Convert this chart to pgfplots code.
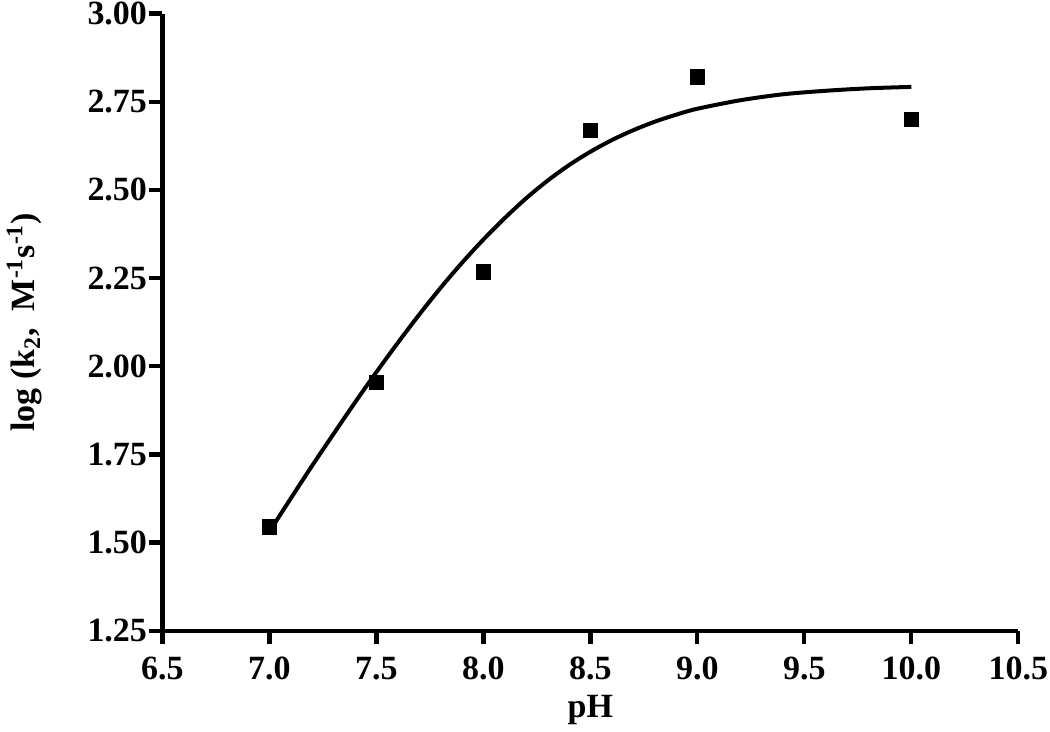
\documentclass[border=0pt]{standalone}
\usepackage{fontspec}
\setmainfont{Liberation Serif}
\usepackage{pgfplots}
\pgfplotsset{compat=1.18}

\begin{document}
\begin{tikzpicture}
\begin{axis}[
  scale only axis,
  width=428.5pt, height=309pt,
  xmin=6.5, xmax=10.5, ymin=1.25, ymax=3.00,
  axis x line*=bottom, axis y line*=left,
  axis line style={line width=2.2pt, -},
  xtick={6.5,7.0,...,10.5},
  ytick={1.25,1.50,...,3.00},
  tick style={line width=2.2pt, black},
  tick align=outside,
  major tick length=6.5pt,
  /pgf/number format/assume math mode=true,
  xticklabel style={/pgf/number format/fixed, /pgf/number format/fixed zerofill, /pgf/number format/precision=1, yshift=-5.5pt},
  yticklabel style={/pgf/number format/fixed, /pgf/number format/fixed zerofill, /pgf/number format/precision=2},
  ticklabel style={font=\fontsize{17}{20}\selectfont\bfseries, inner sep=1pt},
  label style={font=\fontsize{17}{20}\selectfont\bfseries},
  xlabel={pH},
  ylabel={log (k\textsubscript{2},\ \ M\textsuperscript{-1}s\textsuperscript{-1})},
  xlabel style={at={(axis description cs:0.5,-0.141)}, anchor=base},
  ylabel style={at={(axis description cs:-0.161,0.5)}, anchor=center},
  clip=false,
]
% fitted curve
\addplot[black, line width=2pt, smooth] coordinates {
 (7.0,1.531) (7.1,1.625) (7.2,1.718) (7.3,1.808) (7.4,1.897) (7.5,1.983)
 (7.6,2.066) (7.7,2.146) (7.8,2.222) (7.9,2.293) (8.0,2.359) (8.1,2.420)
 (8.2,2.476) (8.3,2.526) (8.4,2.570) (8.5,2.608) (8.6,2.641) (8.7,2.669)
 (8.8,2.693) (8.9,2.713) (9.0,2.730) (9.2,2.754) (9.4,2.771) (9.6,2.781)
 (9.8,2.788) (10.0,2.792)
};
% measured points
\addplot[only marks, mark=square*, mark size=3.6pt, black] coordinates {
 (7.0,1.545) (7.5,1.955) (8.0,2.268) (8.5,2.669) (9.0,2.820) (10.0,2.700)
};
\end{axis}
\end{tikzpicture}
\end{document}
